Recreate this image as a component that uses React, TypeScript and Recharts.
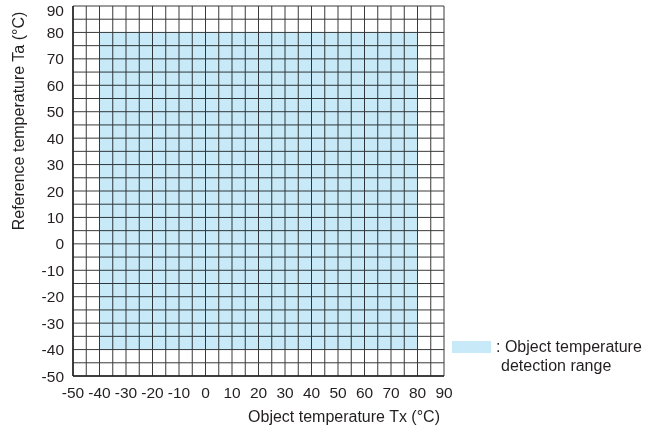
import {
  CartesianGrid,
  Label,
  ReferenceArea,
  Scatter,
  ScatterChart,
  XAxis,
  YAxis,
} from 'recharts';

// axis range and ticks (°C)
const xDomain = [-50, 90];
const yDomain = [-50, 90];
const gridTicks = [
  -50, -45, -40, -35, -30, -25, -20, -15, -10, -5, 0, 5, 10, 15, 20, 25, 30, 35, 40, 45, 50, 55, 60,
  65, 70, 75, 80, 85, 90,
];
const labelTicks = [-50, -40, -30, -20, -10, 0, 10, 20, 30, 40, 50, 60, 70, 80, 90];

// detection range
const rangeX = [-40, 80];
const rangeY = [-40, 80];

const FONT = '"Liberation Sans", Arial, sans-serif';
const FILL = '#c8eaf8';
const INK = '#231f20';

const tickFmt = (v: number) => (labelTicks.includes(v) ? String(v) : '');

// y tick: keep the top label inside the page like the print does
function YTick(props: any) {
  const { x, y, payload } = props;
  const label = tickFmt(payload.value);
  if (!label) return null;
  return (
    <text x={x} y={Math.max(y, 10)} dy="0.355em" textAnchor="end" fill={INK} fontSize={15.5} fontFamily={FONT}>
      {label}
    </text>
  );
}

export default function App() {
  return (
    <div style={{ position: 'absolute', left: 0, top: 0, width: 659, height: 432, background: '#fff', fontFamily: FONT }}>
      <ScatterChart width={659} height={432} margin={{ top: 6, right: 215, bottom: 26, left: 0 }}>
        <CartesianGrid stroke="#3a3a3a" strokeWidth={1} />
        <XAxis
          type="number"
          dataKey="x"
          domain={xDomain}
          ticks={gridTicks}
          interval={0}
          tickFormatter={tickFmt}
          tickLine={false}
          tickMargin={5}
          axisLine={{ stroke: INK, strokeWidth: 1.5 }}
          tick={{ fill: INK, fontSize: 15.5, fontFamily: FONT }}
          height={30}
          allowDataOverflow
        >
          <Label
            content={() => (
              <text x={344} y={422} textAnchor="middle" fill={INK} fontSize={16} fontFamily={FONT}>
                Object temperature Tx (°C)
              </text>
            )}
          />
        </XAxis>
        <YAxis
          type="number"
          dataKey="y"
          domain={yDomain}
          ticks={gridTicks}
          interval={0}
          tickLine={false}
          tickMargin={3}
          axisLine={{ stroke: INK, strokeWidth: 1.5 }}
          tick={<YTick />}
          width={73}
          allowDataOverflow
        >
          <Label
            content={() => (
              <text
                x={24}
                y={121}
                textAnchor="middle"
                fill={INK}
                fontSize={16}
                fontFamily={FONT}
                transform="rotate(-90 24 121)"
              >
                Reference temperature Ta (°C)
              </text>
            )}
          />
        </YAxis>
        <ReferenceArea
          x1={rangeX[0]}
          x2={rangeX[1]}
          y1={rangeY[0]}
          y2={rangeY[1]}
          fill={FILL}
          fillOpacity={1}
          stroke="none"
          style={{ mixBlendMode: 'multiply' }}
        />
        <Scatter data={[]} isAnimationActive={false} />
      </ScatterChart>
      <div style={{ position: 'absolute', left: 452, top: 341, width: 39, height: 12, background: FILL }} />
      <div style={{ position: 'absolute', left: 496, top: 337, fontSize: 16, color: INK, lineHeight: '19px' }}>
        : Object temperature
        <br />
        <span style={{ paddingLeft: 5 }}>detection range</span>
      </div>
    </div>
  );
}
